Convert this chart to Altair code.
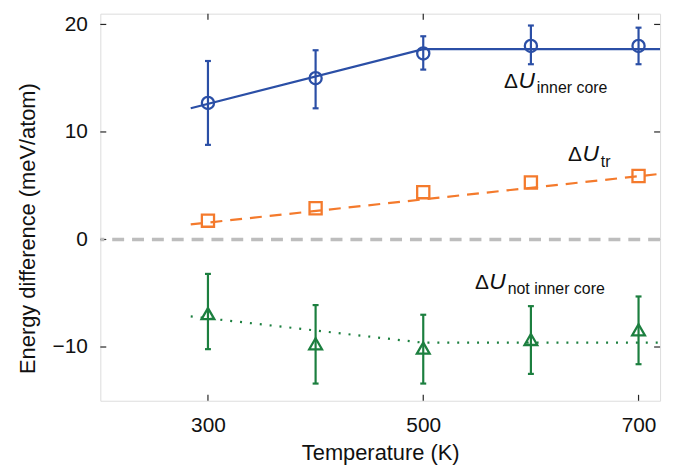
import altair as alt
import pandas as pd

# ---- data ----
temps = [300, 400, 500, 600, 700]

inner_val = [12.7, 15.0, 17.3, 18.0, 18.0]
inner_lo = [8.8, 12.2, 15.8, 16.3, 16.3]
inner_hi = [16.6, 17.6, 18.9, 19.9, 19.7]

tr_val = [1.75, 2.9, 4.4, 5.3, 5.9]

not_val = [-6.9, -9.7, -10.1, -9.3, -8.4]
not_lo = [-10.2, -13.4, -13.4, -12.5, -11.6]
not_hi = [-3.2, -6.1, -7.0, -6.2, -5.3]

inner_fit_T = [284, 500, 720]
inner_fit = [12.2, 17.7, 17.7]
tr_fit_T = [284, 720]
tr_fit = [1.4, 6.1]
not_fit_T = [284, 500, 720]
not_fit = [-7.15, -9.6, -9.6]

label_T = [575, 634.5, 548]
label_E = [14.1, 7.27, -4.6]
label_sub = ["inner core", "tr", "not inner core"]

x_ticks = [300, 500, 700]
y_ticks = [-10, 0, 10, 20]

# ---- style ----
FONT = "Liberation Sans"
W, H = 564, 390
BLUE = "#2b4fa6"
ORANGE = "#f47a2c"
GREEN = "#1c7f3f"
FRAME = "#262626"

xs = alt.Scale(domain=[200, 720], nice=False, zero=False)
ys = alt.Scale(domain=[-15, 21], nice=False, zero=False)

xaxis = alt.Axis(values=x_ticks, title="Temperature (K)", ticks=False, domain=False,
                 grid=False, labelPadding=14, labelFontSize=21, titleFontSize=22,
                 titlePadding=7, labelFont=FONT, titleFont=FONT, labelColor="#111",
                 titleColor="#111", titleFontWeight="normal", format="d")
yaxis = alt.Axis(values=y_ticks, title="Energy difference (meV/atom)", ticks=False,
                 domain=False, grid=False, labelPadding=13, labelFontSize=21,
                 titleFontSize=22, titlePadding=13, labelFont=FONT, titleFont=FONT,
                 labelColor="#111", titleColor="#111", titleFontWeight="normal",
                 titleY=216)


def X(f):
    return alt.X(f"{f}:Q", scale=xs, axis=xaxis)


def Y(f):
    return alt.Y(f"{f}:Q", scale=ys, axis=yaxis)


layers = []

# tick marks (inward, all four sides)
xt = pd.DataFrame({"T": x_ticks})
yt = pd.DataFrame({"E": y_ticks})
layers.append(alt.Chart(xt).mark_rule(color=FRAME, strokeWidth=1.2).encode(
    x=X("T"), y=alt.value(H), y2=alt.value(H - 6)))
layers.append(alt.Chart(xt).mark_rule(color=FRAME, strokeWidth=1.2).encode(
    x=X("T"), y=alt.value(0), y2=alt.value(6)))
layers.append(alt.Chart(yt).mark_rule(color=FRAME, strokeWidth=1.2).encode(
    y=Y("E"), x=alt.value(0), x2=alt.value(6)))
layers.append(alt.Chart(yt).mark_rule(color=FRAME, strokeWidth=1.2).encode(
    y=Y("E"), x=alt.value(W - 6), x2=alt.value(W)))

# zero reference line
layers.append(alt.Chart(pd.DataFrame({"E": [0]})).mark_rule(
    color="#bdbdbd", strokeWidth=3.5, strokeDash=[12, 8]).encode(y=Y("E")))

series = [
    dict(color=BLUE, dash=None, shape="circle", size=150,
         val=inner_val, lo=inner_lo, hi=inner_hi, fT=inner_fit_T, fE=inner_fit),
    dict(color=ORANGE, dash=[12, 8], shape="square", size=150,
         val=tr_val, lo=None, hi=None, fT=tr_fit_T, fE=tr_fit),
    dict(color=GREEN, dash=[2, 8], shape="triangle-up", size=165,
         val=not_val, lo=not_lo, hi=not_hi, fT=not_fit_T, fE=not_fit),
]

for s in series:
    line_kw = dict(color=s["color"], strokeWidth=2.2, clip=True)
    if s["dash"] is not None:
        line_kw["strokeDash"] = s["dash"]
    fit_df = pd.DataFrame({"T": s["fT"], "E": s["fE"]})
    layers.append(alt.Chart(fit_df).mark_line(**line_kw).encode(x=X("T"), y=Y("E")))

    if s["lo"] is not None:
        pdf = pd.DataFrame({"T": temps, "E": s["val"], "lo": s["lo"], "hi": s["hi"]})
        layers.append(alt.Chart(pdf).mark_rule(color=s["color"], strokeWidth=2.2).encode(
            x=X("T"), y=Y("lo"), y2="hi"))
        for f in ["lo", "hi"]:
            layers.append(alt.Chart(pdf).mark_tick(
                color=s["color"], orient="horizontal", size=6, thickness=2.2,
                opacity=1).encode(x=X("T"), y=Y(f)))

    mdf = pd.DataFrame({"T": temps, "E": s["val"]})
    layers.append(alt.Chart(mdf).mark_point(
        shape=s["shape"], filled=False, size=s["size"], strokeWidth=2.3,
        color=s["color"], opacity=1).encode(x=X("T"), y=Y("E")))

# labels  ΔU_sub
ldf = pd.DataFrame({"T": label_T, "E": label_E, "sub": label_sub})
txt = dict(font=FONT, color="#111", align="left", baseline="alphabetic")
layers.append(alt.Chart(ldf).mark_text(text="Δ", fontSize=21, **txt).encode(
    x=X("T"), y=Y("E")))
layers.append(alt.Chart(ldf).mark_text(text="U", fontSize=23, fontStyle="italic",
                                       dx=14.5, **txt).encode(x=X("T"), y=Y("E")))
layers.append(alt.Chart(ldf).mark_text(fontSize=16, dx=33, dy=5.5, **txt).encode(
    x=X("T"), y=Y("E"), text="sub:N"))

chart = alt.layer(*layers).properties(
    width=W, height=H,
    padding={"left": 93, "top": 4, "right": 10, "bottom": 65},
    autosize=alt.AutoSizeParams(type="none"),
).configure_view(stroke=FRAME, strokeWidth=1.5).configure(background="white")

chart.save("out.html", embed_options={"renderer": "svg", "actions": False})
